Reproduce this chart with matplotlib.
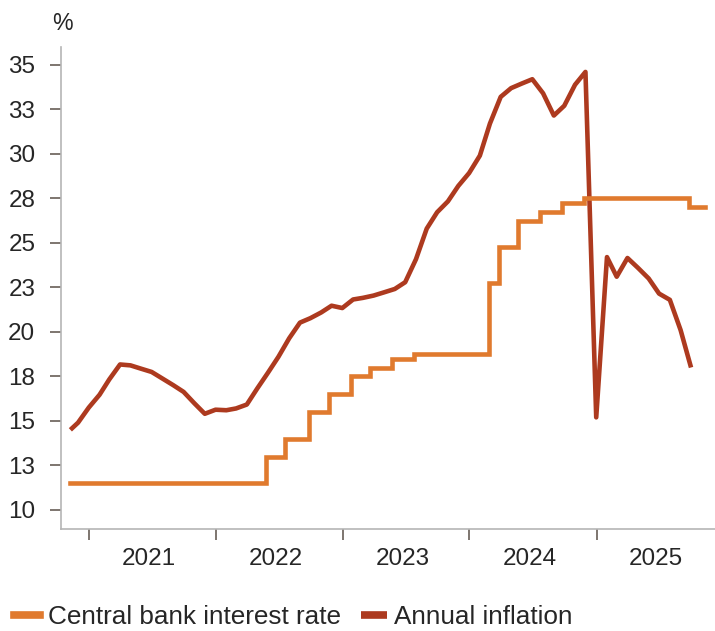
import matplotlib
matplotlib.use("Agg")
import matplotlib.pyplot as plt
import matplotlib.dates as mdates
from matplotlib import font_manager
from matplotlib.ticker import FixedLocator, FuncFormatter, NullFormatter
import numpy as np
import pandas as pd

# ---------------- data ----------------
rate_dates = ["2020-11-08", "2022-05-24", "2022-07-19", "2022-09-27", "2022-11-22",
              "2023-01-24", "2023-03-21", "2023-05-24", "2023-07-25", "2024-02-27",
              "2024-03-26", "2024-05-21", "2024-07-23", "2024-09-24", "2024-11-26",
              "2025-09-23", "2025-11-10"]
rate_values = [11.5, 13.0, 14.0, 15.5, 16.5,
               17.5, 18.0, 18.5, 18.75, 22.75,
               24.75, 26.25, 26.75, 27.25, 27.5,
               27.0, 27.0]

infl_start = "2020-11-08"
infl_start_value = 14.5
infl_months = pd.date_range("2020-11-30", "2025-09-30", freq="ME")
infl_values = [14.9, 15.75,                                   # 2020 Nov-Dec
               16.47, 17.33, 18.17, 18.12, 17.93, 17.75,       # 2021
               17.38, 17.01, 16.63, 15.99, 15.40, 15.63,
               15.60, 15.70, 15.92, 16.82, 17.71, 18.60,       # 2022
               19.64, 20.52, 20.77, 21.09, 21.47, 21.34,
               21.82, 21.91, 22.04, 22.22, 22.41, 22.79,       # 2023
               24.08, 25.80, 26.72, 27.33, 28.20, 28.92,
               29.90, 31.70, 33.20, 33.69, 33.95, 34.19,       # 2024
               33.40, 32.15, 32.70, 33.88, 34.60, 15.20,
               24.20, 23.10, 24.15, 23.60, 23.00, 22.15,       # 2025
               21.80, 20.10, 18.00]

year_labels = ["2021", "2022", "2023", "2024", "2025"]
y_ticks = [10, 12.5, 15, 17.5, 20, 22.5, 25, 27.5, 30, 32.5, 35]
rate_label = "Central bank interest rate"
infl_label = "Annual inflation"

# ---------------- style ----------------
names = {f.name for f in font_manager.fontManager.ttflist}
if "Liberation Sans Narrow" in names:
    fam = ["Liberation Sans Narrow", "DejaVu Sans"]
    fs = 21
    fs_leg = 21
else:
    fam = ["Liberation Sans", "DejaVu Sans"]
    fs = 17.5
    fs_leg = 18.8
plt.rcParams["font.family"] = fam

orange = "#E07A2E"
darkred = "#AD3A1F"
txt = "#262626"

fig = plt.figure(figsize=(7.15, 6.31), dpi=100)
ax = fig.add_axes([61 / 715, (631 - 529) / 631, 1 - 61 / 715, (529 - 47) / 631])

rd = pd.to_datetime(rate_dates)
idates = pd.DatetimeIndex([pd.Timestamp(infl_start)]).append(infl_months)
ivals = [infl_start_value] + infl_values

l2, = ax.plot(idates, ivals, color=darkred, lw=3.3, solid_joinstyle="round",
              solid_capstyle="butt", label=infl_label)
l1, = ax.step(rd, rate_values, where="post", color=orange, lw=3.3,
              solid_joinstyle="miter", label=rate_label)

ax.set_xlim(pd.Timestamp("2020-10-12"), pd.Timestamp("2025-12-08"))
ax.set_ylim(8.93, 36.0)

for s in ["top", "right"]:
    ax.spines[s].set_visible(False)
for s in ["left", "bottom"]:
    ax.spines[s].set_color("#b5b5b5")
    ax.spines[s].set_linewidth(1.2)

ax.yaxis.set_major_locator(FixedLocator(y_ticks))
ax.yaxis.set_major_formatter(FuncFormatter(lambda v, p: str(int(np.floor(v + 0.5)))))
ax.tick_params(axis="y", direction="out", length=8, width=1.1, color="#5a5048",
               pad=10.5, labelsize=fs, labelcolor=txt)

major = [mdates.date2num(pd.Timestamp(f"{y}-01-01")) for y in year_labels]
minor = [mdates.date2num(pd.Timestamp(f"{y}-06-22")) for y in year_labels]
ax.xaxis.set_major_locator(FixedLocator(major))
ax.xaxis.set_major_formatter(NullFormatter())
ax.xaxis.set_minor_locator(FixedLocator(minor))
ax.xaxis.set_minor_formatter(FuncFormatter(lambda v, p: year_labels[p] if p is not None and p < len(year_labels) else ""))
ax.tick_params(axis="x", which="major", direction="out", length=8, width=1.1, color="#5a5048")
ax.tick_params(axis="x", which="minor", length=0, pad=13.5, labelsize=fs, labelcolor=txt)

fig.text(62 / 715, 1 - 23 / 631, "%", ha="center", va="center", fontsize=fs * 0.95, color=txt)

leg = fig.legend([l1, l2], [rate_label, infl_label], loc="center left",
                 bbox_to_anchor=(14 / 715, 1 - 617 / 631), ncol=2, frameon=False,
                 fontsize=fs_leg, handlelength=1.0, handletextpad=0.3, columnspacing=0.75,
                 borderpad=0, borderaxespad=0)
for t in leg.get_texts():
    t.set_color(txt)
for h in leg.get_lines():
    h.set_linewidth(5.5)

fig.savefig("out.png", dpi=100)
